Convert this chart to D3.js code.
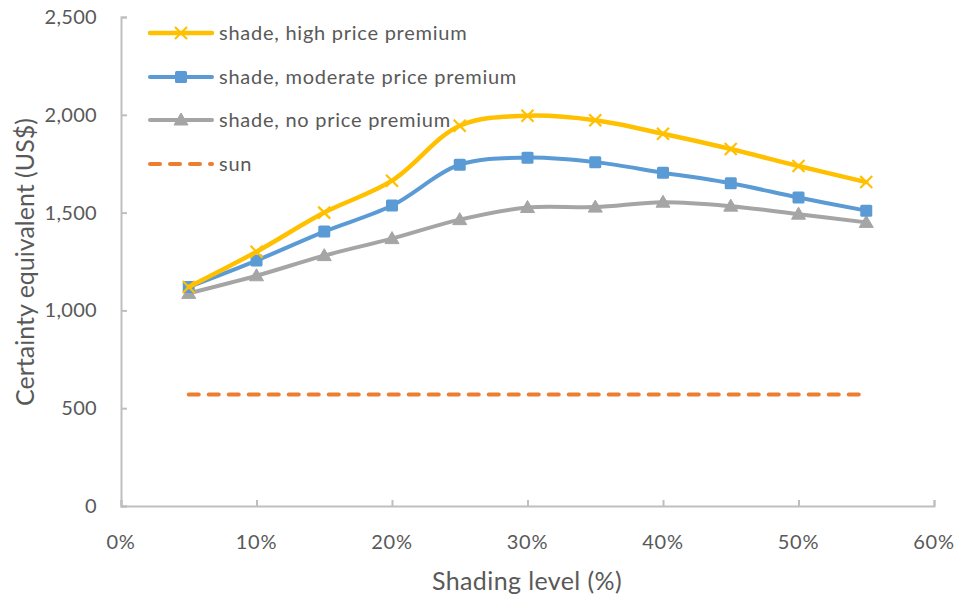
<!DOCTYPE html>
<html>
<head>
<meta charset="utf-8">
<script src="https://cdn.jsdelivr.net/npm/d3@7/dist/d3.min.js"></script>
<style>
  html, body { margin: 0; padding: 0; background: #fff; }
  svg { display: block; font-family: Lato, "Open Sans", sans-serif; }
</style>
</head>
<body>
<svg id="chart" width="960" height="598"></svg>
<script>
// Shading levels (fraction) and certainty equivalents (US$)
const shading = [0.05, 0.10, 0.15, 0.20, 0.25, 0.30, 0.35, 0.40, 0.45, 0.50, 0.55];
const highPremium = [1120, 1300, 1500, 1663, 1944, 1995, 1972, 1903, 1825, 1738, 1656];
const moderatePremium = [1120, 1255, 1403, 1536, 1745, 1781, 1758, 1704, 1650, 1577, 1510];
const noPremium = [1087, 1177, 1280, 1367, 1464, 1526, 1528, 1553, 1533, 1492, 1450];
const sun = [570, 570, 570, 570, 570, 570, 570, 570, 570, 570, 570];

const seriesNames = ["shade, high price premium", "shade, moderate price premium", "shade, no price premium", "sun"];
const yTicks = [0, 500, 1000, 1500, 2000, 2500];
const xTicks = [0, 0.1, 0.2, 0.3, 0.4, 0.5, 0.6];

const svg = d3.select("#chart");
const x = d3.scaleLinear().domain([0, 0.6]).range([121, 934]);
const y = d3.scaleLinear().domain([0, 2500]).range([506, 17]);

const textColor = "#595959";
const axisColor = "#BFBFBF";

// Axes
const yAxis = svg.append("g").attr("transform", `translate(${x(0)},0)`)
  .call(d3.axisRight(y).tickValues(yTicks).tickSize(6).tickFormat(() => ""));
const xAxis = svg.append("g").attr("transform", `translate(0,${y(0)})`)
  .call(d3.axisTop(x).tickValues(xTicks).tickSize(6).tickFormat(() => ""));
[yAxis, xAxis].forEach(g => {
  g.select(".domain").attr("stroke", axisColor).attr("stroke-width", 2);
  g.selectAll(".tick line").attr("stroke", axisColor).attr("stroke-width", 2);
});

// Tick labels
svg.append("g").selectAll("text").data(yTicks).join("text")
  .attr("x", 97).attr("y", d => y(d)).attr("dy", "0.35em")
  .attr("text-anchor", "end").attr("fill", textColor).attr("font-size", 20)
  .attr("letter-spacing", 0.3)
  .text(d3.format(","));
svg.append("g").selectAll("text").data(xTicks).join("text")
  .attr("x", d => x(d)).attr("y", 542).attr("dy", "0.35em")
  .attr("text-anchor", "middle").attr("fill", textColor).attr("font-size", 20)
  .attr("letter-spacing", 0.8)
  .text(d3.format(".0%"));

// Axis titles
svg.append("text").attr("x", 527).attr("y", 581).attr("dy", "0.35em")
  .attr("text-anchor", "middle").attr("fill", textColor).attr("font-size", 25)
  .attr("letter-spacing", 0.4)
  .text("Shading level (%)");
svg.append("text").attr("transform", "translate(25,262) rotate(-90)").attr("dy", "0.35em")
  .attr("text-anchor", "middle").attr("fill", textColor).attr("font-size", 25)
  .text("Certainty equivalent (US$)");

// Series definitions
const series = [
  { name: seriesNames[0], values: highPremium, color: "#FFC000", width: 4.5, marker: "x" },
  { name: seriesNames[1], values: moderatePremium, color: "#5B9BD5", width: 4, marker: "square" },
  { name: seriesNames[2], values: noPremium, color: "#A5A5A5", width: 4, marker: "triangle" },
  { name: seriesNames[3], values: sun, color: "#ED7D31", width: 4, marker: null, dash: "10,10" }
];

const smooth = d3.line().x((d, i) => x(shading[i])).y(d => y(d)).curve(d3.curveCatmullRom.alpha(0.5));
const straight = d3.line().x((d, i) => x(shading[i])).y(d => y(d));

function drawMarker(g, type, cx, cy, color) {
  if (type === "x") {
    const s = 6;
    g.append("path").attr("d", `M${cx - s},${cy - s}L${cx + s},${cy + s}M${cx - s},${cy + s}L${cx + s},${cy - s}`)
      .attr("stroke", color).attr("stroke-width", 2.2).attr("fill", "none");
  } else if (type === "square") {
    g.append("rect").attr("x", cx - 6).attr("y", cy - 6).attr("width", 12).attr("height", 12)
      .attr("rx", 1.5).attr("fill", color);
  } else if (type === "triangle") {
    g.append("path").attr("d", `M${cx},${cy - 7}L${cx + 7},${cy + 5}L${cx - 7},${cy + 5}Z`)
      .attr("fill", color).attr("stroke", color).attr("stroke-width", 1).attr("stroke-linejoin", "round");
  }
}

// Draw in reverse so the high-premium line sits on top
const plot = svg.append("g");
series.slice().reverse().forEach(s => {
  const g = plot.append("g");
  g.append("path").datum(s.values)
    .attr("d", s.dash ? straight : smooth)
    .attr("fill", "none").attr("stroke", s.color).attr("stroke-width", s.width)
    .attr("stroke-linecap", "round").attr("stroke-linejoin", "round")
    .attr("stroke-dasharray", s.dash || null);
  if (s.marker) {
    s.values.forEach((v, i) => drawMarker(g, s.marker, x(shading[i]), y(v), s.color));
  }
});

// Legend
const legendRows = [33, 77, 120, 164];
const legend = svg.append("g");
series.forEach((s, i) => {
  const ly = legendRows[i];
  legend.append("line").attr("x1", 150).attr("x2", 212).attr("y1", ly).attr("y2", ly)
    .attr("stroke", s.color).attr("stroke-width", s.width).attr("stroke-linecap", "round")
    .attr("stroke-dasharray", s.dash || null);
  if (s.marker) drawMarker(legend, s.marker, 181, ly, s.color);
  legend.append("text").attr("x", 219).attr("y", ly).attr("dy", "0.35em")
    .attr("fill", textColor).attr("font-size", 20).attr("letter-spacing", 0.75).text(s.name);
});
</script>
</body>
</html>
